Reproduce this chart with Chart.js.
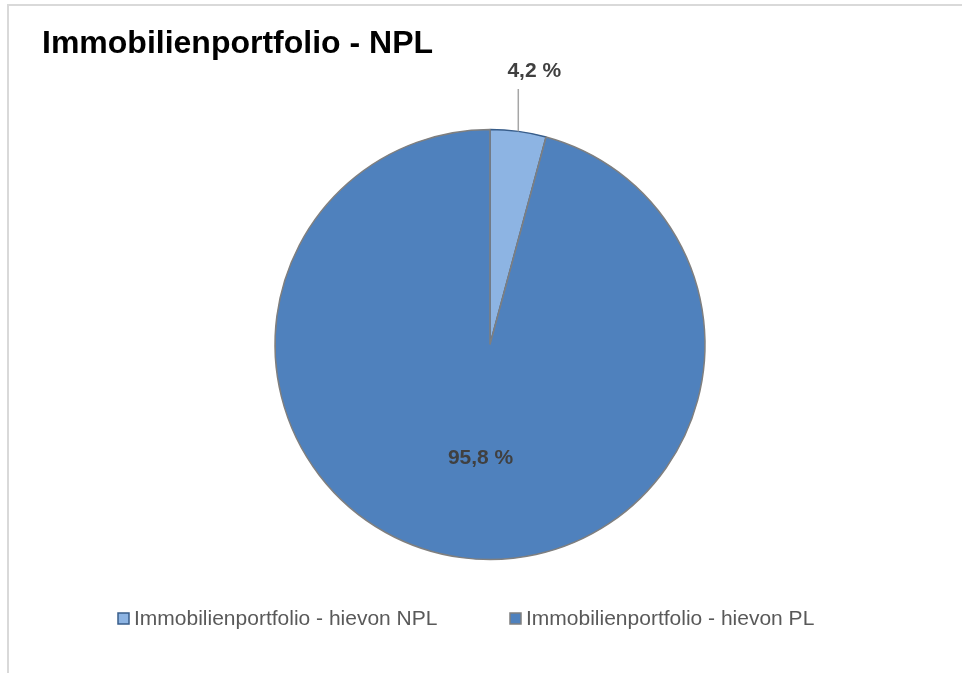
<!DOCTYPE html>
<html>
<head>
<meta charset="utf-8">
<script src="https://cdn.jsdelivr.net/npm/chart.js@4.4.1/dist/chart.umd.min.js"></script>
<style>
  body { margin: 0; background: #fff; }
  #frame { position: absolute; left: 7px; top: 4px; width: 1000px; height: 700px;
           border-left: 2px solid #d9d9d9; border-top: 2px solid #d9d9d9; }
  #wrap { position: absolute; left: 0; top: 0; width: 962px; height: 673px; }
</style>
</head>
<body>
<div id="frame"></div>
<div id="wrap"><canvas id="myChart" width="962" height="673"></canvas></div>
<script>
var labels = ["Immobilienportfolio - hievon NPL", "Immobilienportfolio - hievon PL"]
var values = [4.2, 95.8]
var valueLabels = ["4,2 %", "95,8 %"]
var colors = ["#8db4e3", "#4f81bd"]
var borders = ["#385d8a", "#7f7f7f"]

var labelPlugin = {
  id: "labelPlugin",
  afterDatasetsDraw: function(chart) {
    var ctx = chart.ctx
    var meta = chart.getDatasetMeta(0)
    ctx.save()
    ctx.font = "bold 21px 'Liberation Sans', Arial, sans-serif"
    ctx.fillStyle = "#404040"
    ctx.textAlign = "center"
    ctx.textBaseline = "alphabetic"

    // small slice: leader line up, label above it
    var a = meta.data[0]
    var mid = (a.startAngle + a.endAngle) / 2
    var x0 = a.x + Math.cos(mid) * a.outerRadius
    var y0 = a.y + Math.sin(mid) * a.outerRadius
    ctx.strokeStyle = "#a6a6a6"
    ctx.lineWidth = 1.5
    ctx.beginPath()
    ctx.moveTo(x0, y0)
    ctx.lineTo(x0, 89)
    ctx.stroke()
    ctx.fillText(valueLabels[0], x0 + 16, 77)

    // big slice: label inside
    var b = meta.data[1]
    var mid2 = (b.startAngle + b.endAngle) / 2
    var d = b.outerRadius * 0.51
    ctx.fillText(valueLabels[1], b.x + Math.cos(mid2) * d + 5, b.y + Math.sin(mid2) * d + 11)

    // title
    ctx.textAlign = "left"
    ctx.fillStyle = "#000000"
    ctx.font = "bold 32px 'Liberation Sans', Arial, sans-serif"
    ctx.fillText("Immobilienportfolio - NPL", 42, 53)

    // legend
    ctx.font = "21px 'Liberation Sans', Arial, sans-serif"
    var lx = [118, 510]
    for (var i = 0; i < labels.length; i++) {
      ctx.fillStyle = colors[i]
      ctx.fillRect(lx[i], 613, 11, 11)
      ctx.strokeStyle = borders[i]
      ctx.lineWidth = 1.5
      ctx.strokeRect(lx[i], 613, 11, 11)
      ctx.fillStyle = "#595959"
      ctx.fillText(labels[i], lx[i] + 16, 625)
    }
    ctx.restore()
  }
}

var chart = new Chart("myChart", {
  type: "pie",
  data: {
    labels: labels,
    datasets: [{
      data: values,
      backgroundColor: colors,
      borderColor: borders,
      borderWidth: 1.5
    }]
  },
  options: {
    responsive: false,
    animation: false,
    radius: 215,
    layout: { padding: { left: 275, right: 257, top: 130, bottom: 114 } },
    plugins: {
      legend: { display: false },
      tooltip: { enabled: false }
    }
  },
  plugins: [labelPlugin]
})
</script>
</body>
</html>
